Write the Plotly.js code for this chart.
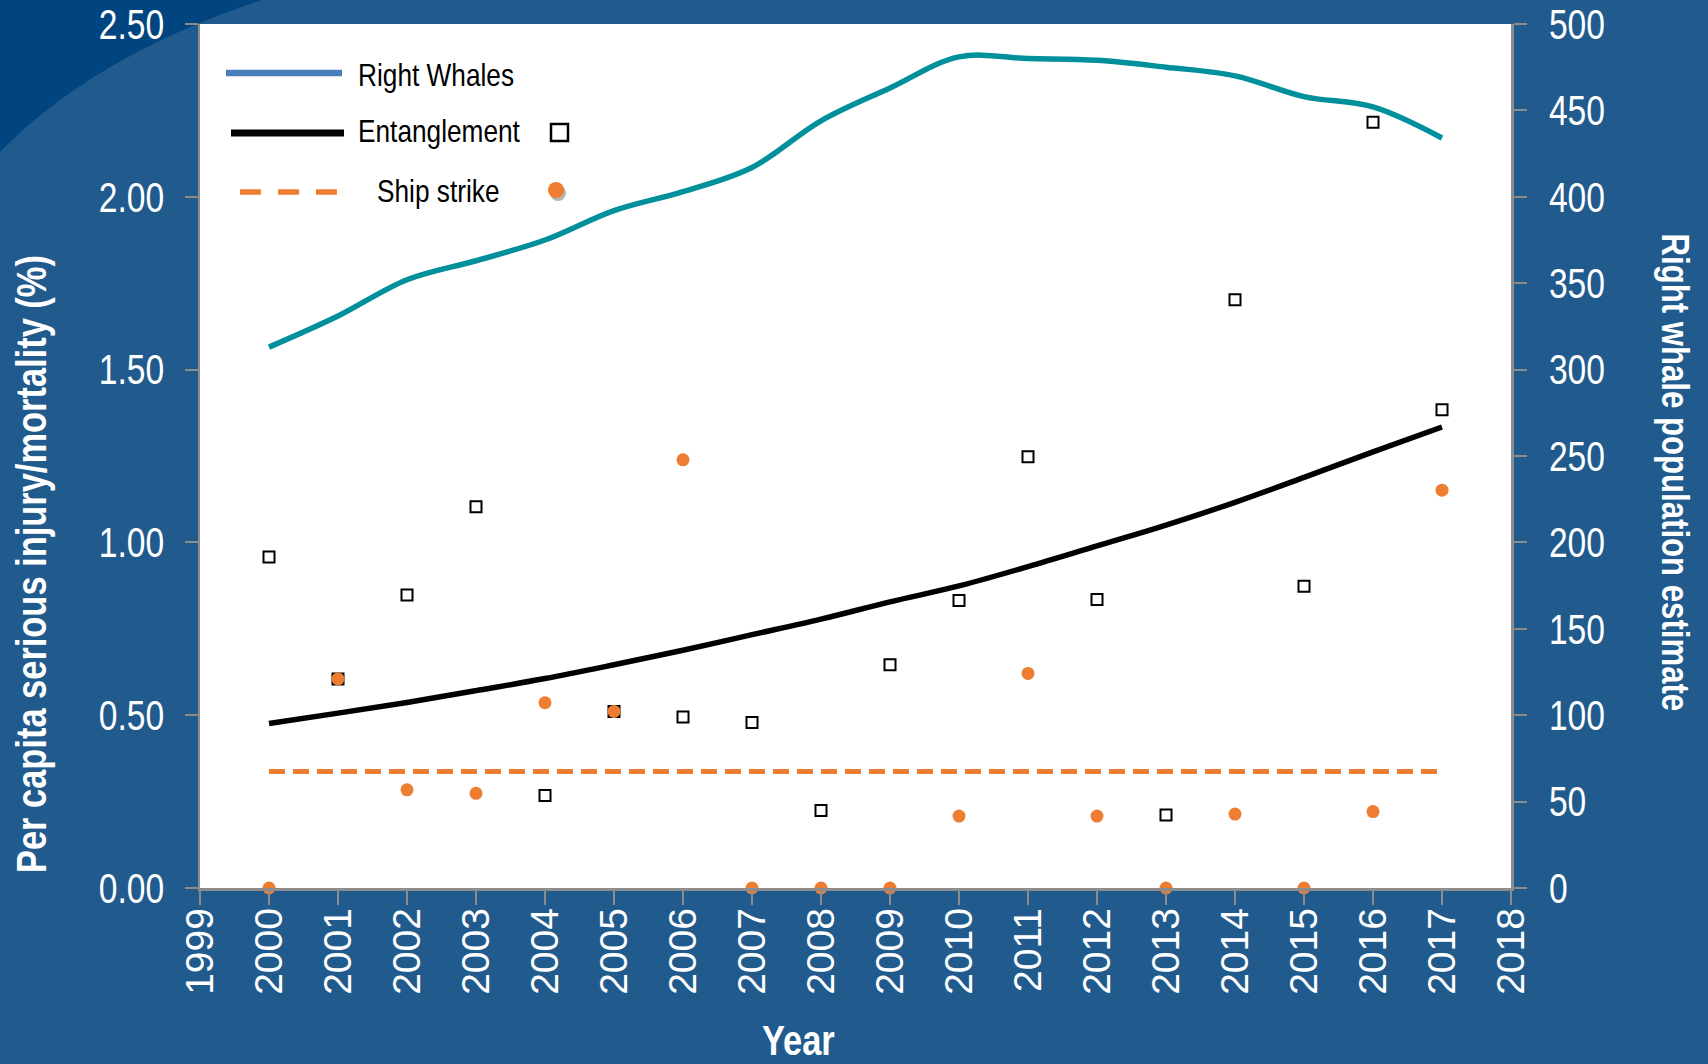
<!DOCTYPE html>
<html>
<head>
<meta charset="utf-8">
<script src="https://cdn.plot.ly/plotly-3.0.1.min.js"></script>
<style>
  html, body { margin: 0; padding: 0; background: #215B8E; }
  #chart { width: 1708px; height: 1064px; }
</style>
</head>
<body>
<div id="chart"></div>
<script>
// ---- data ----
const years = [2000, 2001, 2002, 2003, 2004, 2005, 2006, 2007, 2008, 2009, 2010, 2011, 2012, 2013, 2014, 2015, 2016, 2017];
const populationEstimate = [313, 331, 352, 363, 375, 392, 403, 417, 444, 463, 481, 480, 479, 475, 470, 458, 452, 434];
const entanglementRate = [0.958, 0.605, 0.848, 1.103, 0.268, 0.511, 0.495, 0.479, 0.224, 0.646, 0.832, 1.248, 0.835, 0.211, 1.702, 0.873, 2.216, 1.384];
const shipStrikeRate = [0, 0.605, 0.284, 0.274, 0.536, 0.511, 1.239, 0, 0, 0, 0.208, 0.621, 0.208, 0, 0.214, 0, 0.221, 1.151];
const entanglementTrend = [0.476, 0.506, 0.537, 0.571, 0.606, 0.646, 0.688, 0.733, 0.778, 0.828, 0.874, 0.930, 0.990, 1.050, 1.116, 1.188, 1.262, 1.334];
const shipStrikeTrendYears = [2000, 2017];
const shipStrikeTrend = [0.337, 0.337];
const legendLabels = ["Right Whales", "Entanglement", "Ship strike"];
const leftTitle = "Per capita serious injury/mortality (%)";
const rightTitle = "Right whale population estimate";
const xTitle = "Year";

// ---- styles ----
const TEAL = "#00909B";
const ORANGE = "#ED7D31";
const BG = "#215B8E";
const DARK = "#00457F";
const SANS = "'Liberation Sans', Arial, sans-serif";
const NARROW_X = 0.8; // horizontal squeeze giving an Arial-Narrow look

const traces = [
  {
    x: years, y: populationEstimate, yaxis: "y2", type: "scatter", mode: "lines",
    line: { color: TEAL, width: 5.5, shape: "spline", smoothing: 1 }, hoverinfo: "skip"
  },
  {
    x: years, y: entanglementTrend, type: "scatter", mode: "lines",
    line: { color: "#000000", width: 5.5, shape: "spline", smoothing: 1 }, hoverinfo: "skip"
  },
  {
    x: shipStrikeTrendYears, y: shipStrikeTrend, type: "scatter", mode: "lines",
    line: { color: ORANGE, width: 5, dash: "16px,8px" }, hoverinfo: "skip"
  },
  {
    x: years, y: entanglementRate, type: "scatter", mode: "markers", cliponaxis: false,
    marker: { symbol: "square-open", size: 11, color: "#000000", line: { width: 2 } }
  },
  {
    x: years, y: shipStrikeRate, type: "scatter", mode: "markers", cliponaxis: false,
    marker: { symbol: "circle", size: 13, color: ORANGE, line: { width: 0 } }
  }
];

// plot area in pixels: x 200..1511, y 24..888
const L = 200, R = 1511, T = 24, B = 888;
const px = v => (v - L) / (R - L);
const py = v => (B - v) / (B - T);

const shapes = [
  {
    type: "path", xref: "paper", yref: "paper", layer: "below",
    path: `M ${px(0)},${py(0)} L ${px(262)},${py(0)} Q ${px(95)},${py(55)} ${px(0)},${py(152)} Z`,
    fillcolor: DARK, line: { width: 0 }
  },
  { type: "line", xref: "paper", yref: "paper", x0: px(226), x1: px(342), y0: py(73), y1: py(73),
    line: { color: "#4A7EBB", width: 6.5 } },
  { type: "line", xref: "paper", yref: "paper", x0: px(231), x1: px(344), y0: py(133), y1: py(133),
    line: { color: "#000000", width: 7 } },
  { type: "line", xref: "paper", yref: "paper", x0: px(240), x1: px(338), y0: py(192), y1: py(192),
    line: { color: ORANGE, width: 5.5, dash: "21px,17px" } },
  { type: "rect", xref: "paper", yref: "paper", x0: px(551), x1: px(568), y0: py(124), y1: py(141),
    line: { color: "#000000", width: 2.5 }, fillcolor: "rgba(0,0,0,0)" },
  { type: "circle", xref: "paper", yref: "paper", x0: px(550), x1: px(566), y0: py(185), y1: py(201),
    line: { width: 0 }, fillcolor: "rgba(90,90,90,0.45)" },
  { type: "circle", xref: "paper", yref: "paper", x0: px(548), x1: px(564), y0: py(182), y1: py(198),
    line: { width: 0 }, fillcolor: ORANGE }
];

const annotations = [
  { text: legendLabels[0], xref: "paper", yref: "paper", x: px(356), y: py(75), xanchor: "left", yanchor: "middle",
    showarrow: false, font: { family: SANS, size: 32, color: "#000000" } },
  { text: legendLabels[1], xref: "paper", yref: "paper", x: px(356), y: py(131), xanchor: "left", yanchor: "middle",
    showarrow: false, font: { family: SANS, size: 32, color: "#000000" } },
  { text: legendLabels[2], xref: "paper", yref: "paper", x: px(375), y: py(191), xanchor: "left", yanchor: "middle",
    showarrow: false, font: { family: SANS, size: 32, color: "#000000" } },
  { text: "<b>" + leftTitle + "</b>", xref: "paper", yref: "paper", x: px(31), y: py(564), xanchor: "center", yanchor: "middle",
    textangle: -90, showarrow: false, font: { family: SANS, size: 42, color: "#FFFFFF" } },
  { text: "<b>" + rightTitle + "</b>", xref: "paper", yref: "paper", x: px(1675), y: py(472), xanchor: "center", yanchor: "middle",
    textangle: 90, showarrow: false, font: { family: SANS, size: 38, color: "#FFFFFF" } },
  { text: "<b>" + xTitle + "</b>", xref: "paper", yref: "paper", x: px(798), y: py(1066), xanchor: "center", yanchor: "bottom",
    showarrow: false, font: { family: SANS, size: 42, color: "#FFFFFF" } }
];
// which side of each annotation stays fixed when it is squeezed
const annotationOrigins = ["start", "start", "start", "middle", "middle", "middle"];

const layout = {
  width: 1708, height: 1064,
  paper_bgcolor: BG, plot_bgcolor: "#FFFFFF",
  margin: { l: L, r: 1708 - R, t: T, b: 1064 - B, pad: 0 },
  showlegend: false,
  xaxis: {
    range: [1999, 2018], dtick: 1, tick0: 1999, tickangle: -90,
    showgrid: false, zeroline: false, showline: true, linecolor: "#8C8C8C", linewidth: 2.5,
    ticks: "outside", ticklen: 14, tickwidth: 2, tickcolor: "#8C8C8C",
    tickfont: { family: SANS, size: 39, color: "#FFFFFF" }, ticklabelstandoff: -12,
    ticklabeloverflow: "allow"
  },
  yaxis: {
    range: [0, 2.5], dtick: 0.5, tickformat: ".2f",
    showgrid: false, zeroline: false, showline: true, linecolor: "#8C8C8C", linewidth: 2.5,
    ticks: "outside", ticklen: 13, tickwidth: 2, tickcolor: "#8C8C8C",
    tickfont: { family: SANS, size: 42, color: "#FFFFFF" }, ticklabelstandoff: 12,
    ticklabeloverflow: "allow"
  },
  yaxis2: {
    range: [0, 500], dtick: 50, overlaying: "y", side: "right",
    showgrid: false, zeroline: false, showline: true, linecolor: "#8C8C8C", linewidth: 2.5,
    ticks: "outside", ticklen: 13, tickwidth: 2, tickcolor: "#8C8C8C",
    tickfont: { family: SANS, size: 42, color: "#FFFFFF" }, ticklabelstandoff: 14,
    ticklabeloverflow: "allow"
  },
  shapes: shapes,
  annotations: annotations
};

function squeeze(textEl, sx, origin) {
  const bb = textEl.getBBox();
  const ox = origin === "start" ? bb.x : origin === "end" ? bb.x + bb.width : bb.x + bb.width / 2;
  const prev = textEl.getAttribute("transform") || "";
  textEl.setAttribute("transform", `${prev} translate(${ox},0) scale(${sx},1) translate(${-ox},0)`);
}

Plotly.newPlot("chart", traces, layout, { staticPlot: true, displayModeBar: false }).then(gd => {
  gd.querySelectorAll("g.ytick text").forEach(t => squeeze(t, NARROW_X, "end"));
  gd.querySelectorAll("g.y2tick text").forEach(t => squeeze(t, NARROW_X, "start"));
  annotationOrigins.forEach((o, i) => {
    gd.querySelectorAll(`g.annotation[data-index="${i}"] text`).forEach(t => squeeze(t, 0.82, o));
  });
});
</script>
</body>
</html>
